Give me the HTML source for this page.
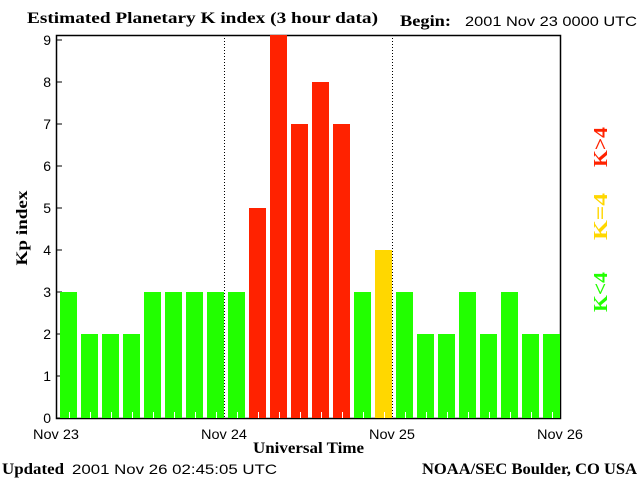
<!DOCTYPE html>
<html><head><meta charset="utf-8"><style>
body{margin:0;background:#fff;}
svg{display:block;}
.s{font-family:"Liberation Sans",sans-serif;font-size:14px;fill:#000;}
.b{font-family:"Liberation Serif",serif;font-weight:bold;font-size:16px;fill:#000;}
</style></head><body>
<svg id="c" width="640" height="480">
<text class="b" x="27" y="23" textLength="351" lengthAdjust="spacingAndGlyphs">Estimated Planetary K index (3 hour data)</text>
<text class="b" x="400" y="26" textLength="51" lengthAdjust="spacingAndGlyphs">Begin:</text>
<text class="s" x="465" y="26" textLength="172" lengthAdjust="spacingAndGlyphs">2001 Nov 23 0000 UTC</text>
<text class="b" transform="translate(27 228) rotate(-90)" text-anchor="middle" textLength="75" lengthAdjust="spacingAndGlyphs">Kp index</text>
<text class="b" x="253" y="453" textLength="111" lengthAdjust="spacingAndGlyphs">Universal Time</text>
<text class="b" x="2" y="474" textLength="62" lengthAdjust="spacingAndGlyphs">Updated</text>
<text class="s" x="72" y="474" textLength="205" lengthAdjust="spacingAndGlyphs">2001 Nov 26 02:45:05 UTC</text>
<text class="b" x="422" y="474" textLength="215" lengthAdjust="spacingAndGlyphs">NOAA/SEC Boulder, CO USA</text>
<g id="axes"></g>
<g id="bars"></g>
<text class="b" transform="translate(607 127) rotate(-90)" text-anchor="end" textLength="40" lengthAdjust="spacingAndGlyphs" style="fill:#ff2200;font-size:20px">K&gt;4</text>
<text class="b" transform="translate(607 193) rotate(-90)" text-anchor="end" textLength="47" lengthAdjust="spacingAndGlyphs" style="fill:#ffd700;font-size:20px">K=4</text>
<text class="b" transform="translate(607 272) rotate(-90)" text-anchor="end" textLength="40" lengthAdjust="spacingAndGlyphs" style="fill:#22ff00;font-size:20px">K&lt;4</text>
<script>
// legend labels positioned with text-anchor end after rotation
</script>
</svg>
<script>
const kpValues=[3,2,2,2,3,3,3,3,3,5,9,7,8,7,3,4,3,2,2,3,2,3,2,2];
const yTicks=[0,1,2,3,4,5,6,7,8,9];
const dayLabels=["Nov 23","Nov 24","Nov 25","Nov 26"];
const NS="http://www.w3.org/2000/svg";
const L=56,R=560,T=35,B=418,unit=42;
const slot=(R-L)/kpValues.length;
function y(v){return B-v*unit;}
function x(i){return L+i*slot;}
function mk(t,a,p){const e=document.createElementNS(NS,t);for(const k in a)e.setAttribute(k,a[k]);p.appendChild(e);return e;}
const bars=document.getElementById('bars'),ax=document.getElementById('axes');
[1,2].forEach(d=>{
 const l=mk('line',{x1:x(d*8)+0.5,x2:x(d*8)+0.5,y1:T,y2:B,stroke:'#000','stroke-dasharray':'1,2'},ax);
 
 
});
const fr=mk('rect',{x:L+0.5,y:T+0.5,width:R-L,height:B-T,fill:'none',stroke:'#000','stroke-width':1.5},ax);


yTicks.forEach(v=>{
 const tk=mk('line',{x1:L,x2:L+6,y1:y(v),y2:y(v),stroke:'#000'},ax);
 
 
 const t=mk('text',{x:L-5,y:y(v)+5,'text-anchor':'end',class:'s'},ax);
 t.textContent=v;
 
 
});
dayLabels.forEach((d,i)=>{
 const t=mk('text',{x:x(i*8),y:439,'text-anchor':'middle',class:'s',textLength:46,lengthAdjust:'spacingAndGlyphs'},ax);
 t.textContent=d;
 
 
});
kpValues.forEach((v,i)=>{
 const col=v>4?'#ff2200':(v==4?'#ffd700':'#22ff00');
 const top=v>=9?T:y(v);
 const r=mk('rect',{x:x(i)+4,y:top,width:17,height:B-top,fill:col},bars);
 
 
 const t=mk('line',{x1:x(i)+13.5,x2:x(i)+13.5,y1:B-6,y2:B,stroke:'#fff','stroke-width':1},bars);
 
 
});
</script>
</body></html>
